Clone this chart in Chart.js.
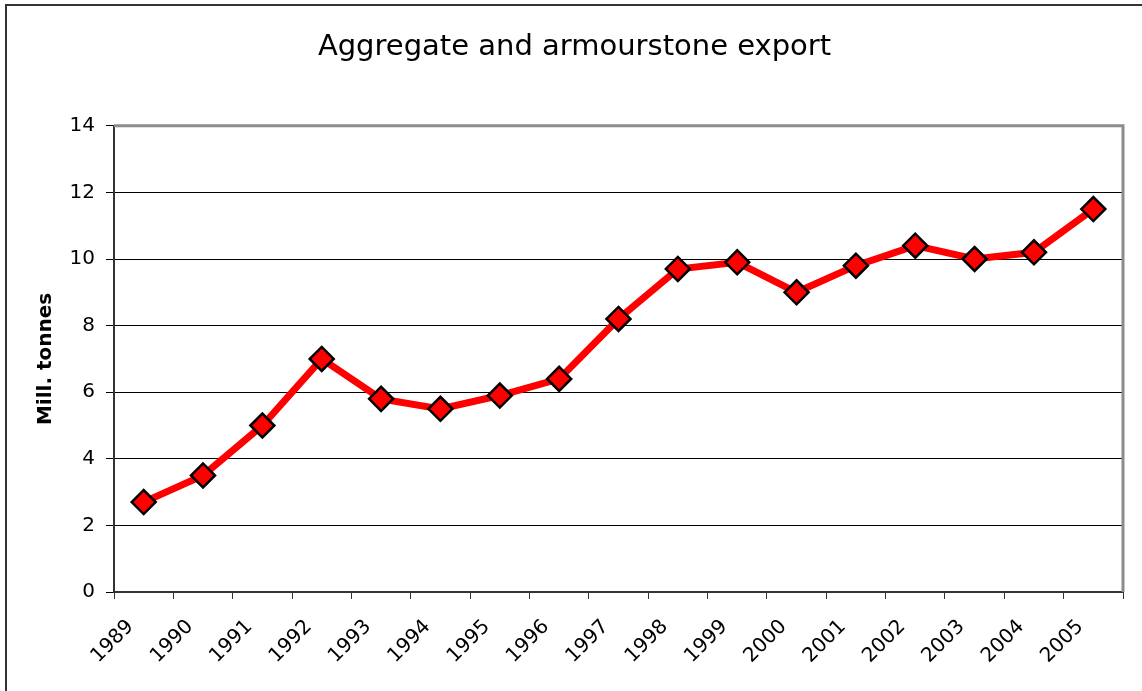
<!DOCTYPE html>
<html>
<head>
<meta charset="utf-8">
<script src="https://cdn.jsdelivr.net/npm/chart.js@4/dist/chart.umd.min.js"></script>
<style>
  html, body { margin: 0; padding: 0; background: #fff; }
  #wrap { width: 1142px; height: 691px; position: relative; }
</style>
</head>
<body>
<div id="wrap"><canvas id="c" width="1142" height="691"></canvas></div>
<script>
const years = ['1989','1990','1991','1992','1993','1994','1995','1996','1997','1998','1999','2000','2001','2002','2003','2004','2005'];
const exportValues = [2.7, 3.5, 5.0, 7.0, 5.8, 5.5, 5.9, 6.4, 8.2, 9.7, 9.9, 9.0, 9.8, 10.4, 10.0, 10.2, 11.5];
const yTicks = [0, 2, 4, 6, 8, 10, 12, 14];
const chartTitle = 'Aggregate and armourstone export';
const yTitle = 'Mill. tonnes';

const FONT = "'DejaVu Sans', Verdana, sans-serif";

const frame = {
  id: 'frame',
  beforeDraw(chart) {
    const ctx = chart.ctx;
    ctx.save();
    ctx.fillStyle = '#fff';
    ctx.fillRect(0, 0, chart.width, chart.height);
    ctx.strokeStyle = '#333';
    ctx.lineWidth = 2;
    ctx.beginPath();
    ctx.moveTo(1142, 5);
    ctx.lineTo(6, 5);
    ctx.lineTo(6, 691);
    ctx.stroke();
    ctx.restore();
  },
  beforeDatasetsDraw(chart) {
    const a = chart.chartArea, ctx = chart.ctx;
    ctx.save();
    ctx.strokeStyle = '#8c8c8c';
    ctx.lineWidth = 3;
    ctx.beginPath();
    ctx.moveTo(a.left, a.top);
    ctx.lineTo(a.right, a.top);
    ctx.lineTo(a.right, a.bottom);
    ctx.stroke();
    ctx.restore();
  }
};

new Chart(document.getElementById('c'), {
  type: 'line',
  data: {
    labels: years,
    datasets: [{
      data: exportValues,
      borderColor: '#ff0000',
      borderWidth: 7,
      backgroundColor: '#ff0000',
      pointStyle: 'rectRot',
      pointRadius: 12,
      pointBorderWidth: 2.5,
      pointBorderColor: '#000',
      pointBackgroundColor: '#ff0000',
      tension: 0,
      fill: false
    }]
  },
  options: {
    responsive: false,
    animation: false,
    layout: { padding: { top: 0, left: 26, right: 19, bottom: 0 } },
    plugins: {
      legend: { display: false },
      tooltip: { enabled: false },
      title: {
        display: true,
        text: chartTitle,
        color: '#000',
        font: { family: FONT, size: 29, weight: 'normal' },
        padding: { top: 30, bottom: 61 }
      }
    },
    scales: {
      x: {
        offset: true,
        grid: { display: true, offset: true, drawOnChartArea: false, drawTicks: true, tickLength: 7, color: '#333', lineWidth: 1 },
        border: { display: true, color: '#333', width: 2 },
        ticks: { color: '#000', font: { family: FONT, size: 20 }, minRotation: 45, maxRotation: 45, padding: 16, labelOffset: -13, autoSkip: false },
        afterFit(scale) { scale.height = 99; }
      },
      y: {
        min: 0, max: 14,
        afterBuildTicks(scale) { scale.ticks = yTicks.map(v => ({ value: v })); },
        grid: { color: '#000', lineWidth: 1, tickLength: 8, drawTicks: true },
        border: { display: true, color: '#333', width: 2 },
        ticks: { color: '#000', font: { family: FONT, size: 20 }, padding: 11 },
        title: { display: true, text: yTitle, color: '#000', font: { family: FONT, size: 20, weight: 'bold' }, padding: { top: 8, bottom: 4 } },
        afterFit(scale) { scale.width = 88; }
      }
    }
  },
  plugins: [frame]
});
</script>
</body>
</html>
